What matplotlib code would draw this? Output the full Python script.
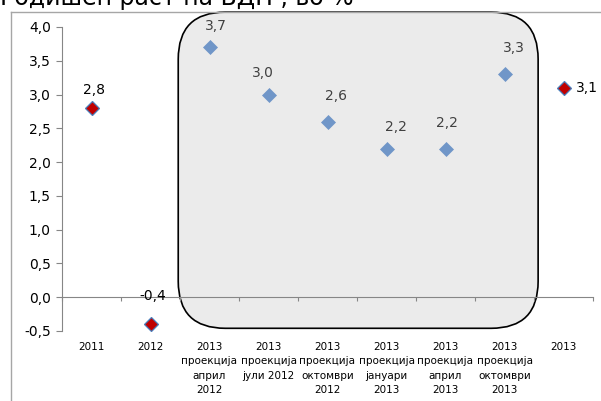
import matplotlib
matplotlib.use("Agg")
import matplotlib.pyplot as plt
from matplotlib.patches import FancyBboxPatch
from matplotlib.lines import Line2D
import matplotlib.transforms as mtransforms

plt.rcParams['font.family'] = ['DejaVu Sans']

# --- data -----------------------------------------------------------------
categories = [
    "2011",
    "2012",
    "2013\nпроекција\nаприл\n2012",
    "2013\nпроекција\nјули 2012",
    "2013\nпроекција\nоктомври\n2012",
    "2013\nпроекција\nјануари\n2013",
    "2013\nпроекција\nаприл\n2013",
    "2013\nпроекција\nоктомври\n2013",
    "2013",
]
actual_idx = [0, 1, 8]
actual_vals = [2.8, -0.4, 3.1]
proj_idx = [2, 3, 4, 5, 6, 7]
proj_vals = [3.7, 3.0, 2.6, 2.2, 2.2, 3.3]
yticks = [-0.5, 0.0, 0.5, 1.0, 1.5, 2.0, 2.5, 3.0, 3.5, 4.0]
title = "Годишен раст на БДП , во %"

# label offsets in pixels (dx, dy) and alignment
actual_offsets = [(2, 18, 'center'), (2, 28, 'center'), (12, 0, 'left')]
proj_offsets = [(6, 21), (-6, 22), (9, 26), (9, 22), (1, 26), (9, 26)]

RED = "#c00000"
BLUE = "#7096c8"
EDGE_BLUE = "#4a7ebb"
AXIS_GRAY = "#868686"

def fmt(v):
    return f"{v:.1f}".replace(".", ",")

W, H = 601, 401
fig = plt.figure(figsize=(W / 100, H / 100), dpi=100)
ax = fig.add_axes([62 / W, (H - 331) / H, 531 / W, 304 / H])

ax.set_xlim(-0.5, len(categories) - 0.5)
ax.set_ylim(-0.5, 4.0)

# axes styling
for s in ("top", "right"):
    ax.spines[s].set_visible(False)
ax.spines["left"].set_color(AXIS_GRAY)
ax.spines["bottom"].set_color(AXIS_GRAY)
ax.spines["bottom"].set_position(("data", 0))
ax.set_yticks(yticks)
ax.set_yticklabels([fmt(t) for t in yticks], fontsize=10)
ax.tick_params(axis="y", direction="out", length=4, width=0.8, color=AXIS_GRAY, pad=4)
ax.set_xticks([i - 0.5 for i in range(len(categories) + 1)])
ax.set_xticklabels([])
ax.tick_params(axis="x", direction="out", length=3, width=0.8, color=AXIS_GRAY)

# category labels along the bottom
xt = mtransforms.blended_transform_factory(ax.transData, ax.transAxes)
for i, c in enumerate(categories):
    ax.annotate(c, xy=(i, 0), xycoords=xt, xytext=(0, -11), textcoords="offset pixels",
                ha="center", va="top", fontsize=7.5, linespacing=1.55, color="black")

# rounded highlight around the projections
fig.canvas.draw()
x0_, y0_ = ax.transData.transform((proj_idx[0] - 0.53, -0.46))
x1_, y1_ = ax.transData.transform((proj_idx[-1] + 0.57, 4.22))
box = FancyBboxPatch((x0_ / 100, y0_ / 100), (x1_ - x0_) / 100, (y1_ - y0_) / 100,
                     boxstyle="round,pad=0,rounding_size=0.47",
                     transform=fig.dpi_scale_trans, facecolor="#ebebeb",
                     edgecolor="black", linewidth=1.2, clip_on=False, zorder=1)
ax.add_patch(box)

# markers
ax.plot(proj_idx, proj_vals, linestyle="none", marker="D", markersize=7.2,
        markerfacecolor=BLUE, markeredgecolor=BLUE, markeredgewidth=0.5, zorder=4, clip_on=False)
ax.plot(actual_idx, actual_vals, linestyle="none", marker="D", markersize=7.2,
        markerfacecolor=RED, markeredgecolor=EDGE_BLUE, markeredgewidth=0.9, zorder=4, clip_on=False)

# value labels
for i, v, (dx, dy, ha) in zip(actual_idx, actual_vals, actual_offsets):
    ax.annotate(fmt(v), (i, v), xytext=(dx, dy), textcoords="offset pixels",
                ha=ha, va="center", fontsize=10, color="black", zorder=5)
for i, v, (dx, dy) in zip(proj_idx, proj_vals, proj_offsets):
    ax.annotate(fmt(v), (i, v), xytext=(dx, dy), textcoords="offset pixels",
                ha="center", va="center", fontsize=10, color="#404040", zorder=5)

# chart frame and title
fig.add_artist(Line2D([11 / W, 11 / W], [0, 1 - 11.5 / H], transform=fig.transFigure,
                      color="#a6a6a6", linewidth=1))
fig.add_artist(Line2D([11 / W, 1], [1 - 11.5 / H, 1 - 11.5 / H], transform=fig.transFigure,
                      color="#a6a6a6", linewidth=1))
fig.text(0.0, 1 - 5 / H, title, ha="left", va="baseline", fontsize=17, color="black")

fig.savefig("out.png", dpi=100)
